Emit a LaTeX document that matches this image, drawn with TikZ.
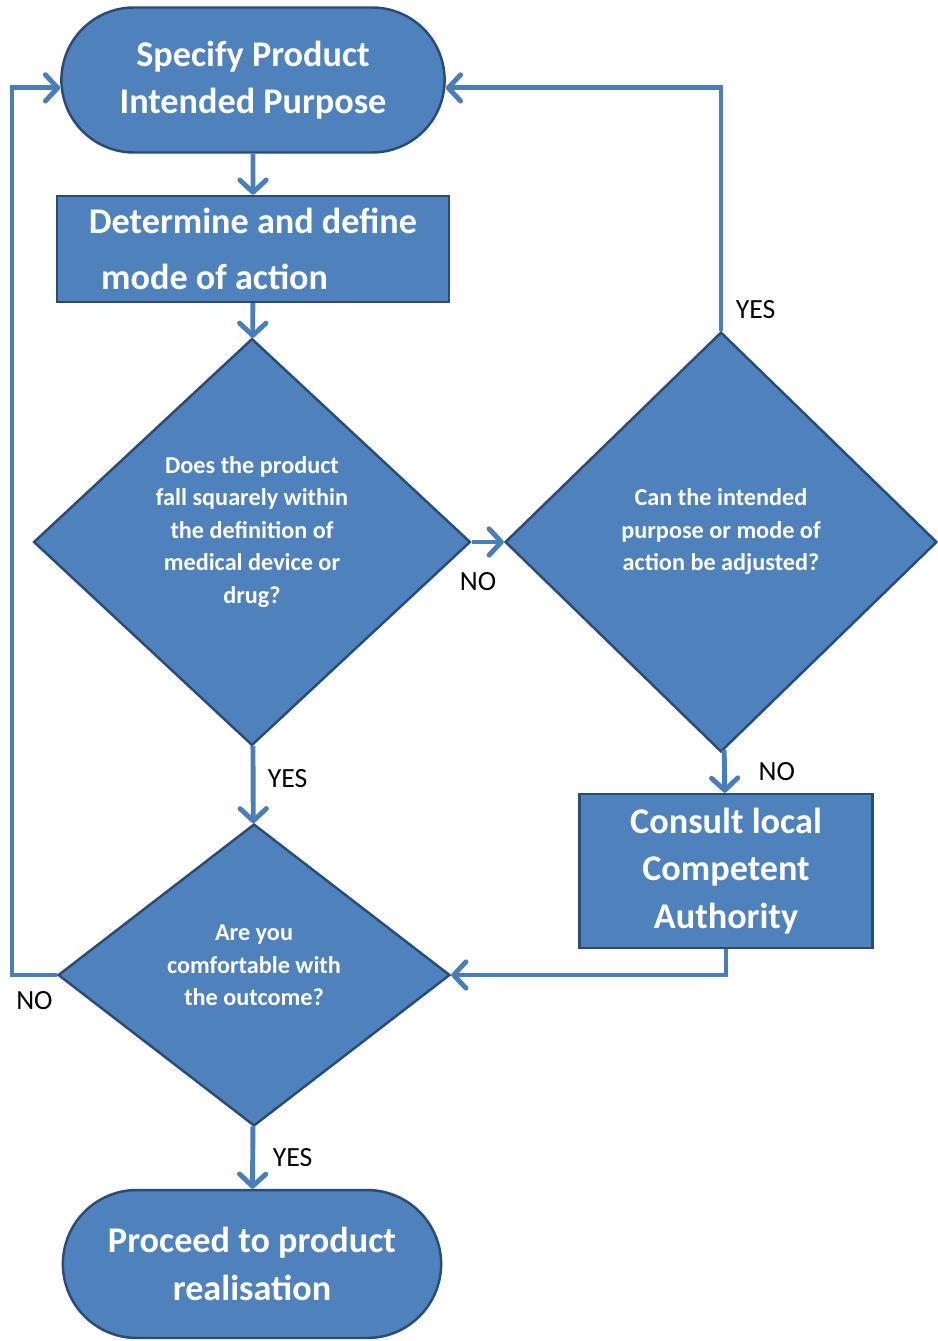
\documentclass[tikz,border=0pt]{standalone}
\usepackage{fontspec}
\setmainfont{Carlito}
\usetikzlibrary{arrows.meta,positioning,shapes.geometric,shapes.misc}

\definecolor{boxblue}{HTML}{4F81BD}
\definecolor{edgeblue}{HTML}{2A4B77}
\definecolor{lineblue}{HTML}{4A7EBB}

\begin{document}
\begin{tikzpicture}[
    x=0.02cm, y=-0.02cm,
    terminal/.style={draw=edgeblue, line width=1.4pt, fill=boxblue, rounded rectangle, minimum width=7.9cm, minimum height=2.9cm, align=center, text=white, font=\fontsize{20.6}{27}\selectfont\bfseries},
    process/.style={draw=edgeblue, line width=1.4pt, fill=boxblue, rectangle, text=white},
    decision/.style={draw=edgeblue, line width=1.4pt, fill=boxblue, diamond, aspect=1, inner sep=0pt, align=center, text=white, font=\fontsize{13.8}{18.5}\selectfont\bfseries},
    flow/.style={-{Straight Barb[round, length=7pt, width=15pt]}, lineblue, line width=2.8pt},
    answer/.style={font=\fontsize{15.8}{18}\selectfont, text=black, inner sep=0pt}
]

\useasboundingbox (0,0) rectangle (937,1341);

% Start and end terminals
\node[terminal] (purpose) at (253,80) {Specify Product\\Intended Purpose};
\node[terminal, minimum width=7.8cm, minimum height=2.96cm] (realise) at (252,1264) {Proceed to product\\realisation};

% Process boxes
\node[process, minimum width=7.84cm, minimum height=2.12cm, align=left, font=\fontsize{20.6}{32}\selectfont\bfseries] (modeact) at (253,249) {Determine and define\\\hspace{7pt}mode of action};
\node[process, minimum width=5.86cm, minimum height=3.08cm, align=center, font=\fontsize{20.6}{27}\selectfont\bfseries] (consult) at (726,871) {Consult local\\Competent\\Authority};

% Decisions
\node[decision, minimum width=8.74cm, minimum height=8.14cm, text depth=14pt] (fitcheck) at (252,542) {Does the product\\fall squarely within\\the definition of\\medical device or\\drug?};
\node[decision, minimum width=8.64cm, minimum height=8.4cm, text depth=14pt] (adjust) at (721,542) {Can the intended\\purpose or mode of\\action be adjusted?};
\node[decision, minimum width=7.84cm, minimum height=6.04cm, text depth=11pt] (comfort) at (254,975) {Are you\\comfortable with\\the outcome?};

% Return column on the far left
\coordinate (backleft) at (12,0);

% Main flow
\draw[flow] (purpose) -- (modeact);
\draw[flow] (modeact) -- (fitcheck);
\draw[flow] (fitcheck.east) -- node[answer, pos=0.2, below=16pt] {NO} (adjust.west);
\draw[flow] (fitcheck) -- node[answer, pos=0.42, right=7pt] {YES} (comfort);
\draw[flow] (adjust) -- node[answer, midway, right=18pt] {NO} (consult);
\draw[flow] (comfort) -- node[answer, midway, right=10pt] {YES} (realise);

% Loops back
\draw[flow] (adjust.north) |- node[answer, pos=0, above right=5.5pt and 7pt] {YES} ([yshift=-4.5pt]purpose.east);
\draw[flow] (consult.south) |- (comfort.east);
\draw[flow] (comfort.west) -- node[answer, midway, below=8pt] {NO} (comfort.west -| backleft) |- ([yshift=-4.5pt]purpose.west);

\end{tikzpicture}
\end{document}
